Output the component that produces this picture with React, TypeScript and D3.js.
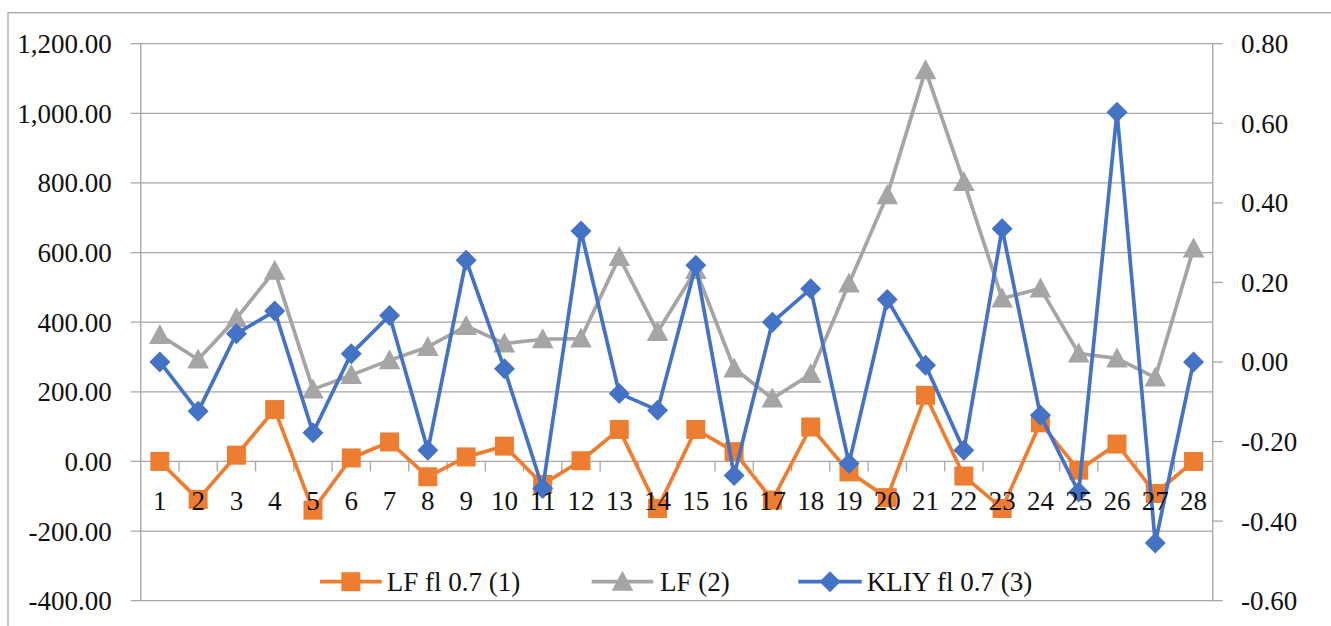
import React from "react";
import * as d3 from "d3";

const categories = Array.from({ length: 28 }, (_, i) => String(i + 1));
const lfFl: number[] = [0, -109, 18, 149, -140, 10, 56, -44, 13, 44, -66, 2, 92, -135, 92, 28, -111, 99, -30, -104, 190, -42, -135, 111, -25, 50, -92, 0];
const lf: number[] = [363, 293, 411, 548, 207, 248, 291, 329, 389, 339, 351, 353, 587, 372, 550, 267, 181, 251, 511, 765, 1124, 803, 468, 497, 310, 296, 241, 612];
const kliy: number[] = [0, -0.124, 0.071, 0.128, -0.178, 0.021, 0.117, -0.222, 0.256, -0.017, -0.318, 0.329, -0.079, -0.121, 0.243, -0.285, 0.1, 0.184, -0.255, 0.157, -0.008, -0.222, 0.335, -0.134, -0.327, 0.628, -0.455, 0];
const leftTicks = [-400, -200, 0, 200, 400, 600, 800, 1000, 1200];
const rightTicks = [-0.6, -0.4, -0.2, 0, 0.2, 0.4, 0.6, 0.8];
const seriesNames = ["LF fl 0.7 (1)", "LF (2)", "KLIY fl 0.7 (3)"];

const W = 1331, H = 626;
const L = 140.7, R = 1212.7, T = 43.7, B = 600.7;
const FONT = "Liberation Serif, serif";
const FS = 27;
const GRID = "#a6a6a6";
const C1 = "#ED7D31", C2 = "#A5A5A5", C3 = "#4472C4";
const LW = 3.7;

function Marker({ kind, x, y, color }: { kind: string; x: number; y: number; color: string }) {
  if (kind === "square") return <rect x={x - 9.5} y={y - 9.5} width={19} height={19} fill={color} />;
  if (kind === "triangle") return <path d={`M${x},${y - 11}L${x + 10.8},${y + 9}L${x - 10.8},${y + 9}Z`} fill={color} />;
  return <path d={`M${x},${y - 10.5}L${x + 10.5},${y}L${x},${y + 10.5}L${x - 10.5},${y}Z`} fill={color} />;
}

export default function App() {
  const x = d3.scaleBand<string>().domain(categories).range([L, R]);
  const yL = d3.scaleLinear().domain([-400, 1200]).range([B, T]);
  const yR = d3.scaleLinear().domain([-0.6, 0.8]).range([B, T]);
  const cx = (c: string) => (x(c) as number) + x.bandwidth() / 2;
  const lineL = d3.line<number>().x((_, i) => cx(categories[i])).y((d) => yL(d));
  const lineR = d3.line<number>().x((_, i) => cx(categories[i])).y((d) => yR(d));
  const y0 = yL(0);

  const series = [
    { data: lfFl, path: lineL(lfFl), color: C1, kind: "square", y: yL },
    { data: lf, path: lineL(lf), color: C2, kind: "triangle", y: yL },
    { data: kliy, path: lineR(kliy), color: C3, kind: "diamond", y: yR },
  ];

  const legendY = 581.7;
  const legendItems = [
    { x1: 320, x2: 381.7, tx: 386.7, color: C1, kind: "square", name: seriesNames[0] },
    { x1: 591.7, x2: 653.3, tx: 660, color: C2, kind: "triangle", name: seriesNames[1] },
    { x1: 798.3, x2: 861.7, tx: 866.7, color: C3, kind: "diamond", name: seriesNames[2] },
  ];

  return (
    <svg width={W} height={H} style={{ position: "absolute", left: 0, top: 0, background: "#fff" }} fontFamily={FONT}>
      <rect x={0} y={0} width={W} height={H} fill="#fff" />
      <rect x={8} y={12.7} width={1400} height={700} fill="none" stroke={GRID} strokeWidth={1.3} />
      {leftTicks.map((t) => (
        <g key={"l" + t}>
          <line x1={L - 10} x2={R} y1={yL(t)} y2={yL(t)} stroke={GRID} strokeWidth={1.3} />
          <text x={111.7} y={yL(t)} dy="0.35em" textAnchor="end" fontSize={FS} fill="#111">
            {d3.format(",.2f")(t).replace("−", "-")}
          </text>
        </g>
      ))}
      <line x1={L} x2={L} y1={T} y2={B} stroke={GRID} strokeWidth={1.3} />
      <line x1={R} x2={R} y1={T} y2={B} stroke={GRID} strokeWidth={1.3} />
      {rightTicks.map((t) => (
        <g key={"r" + t}>
          <line x1={R} x2={R + 10} y1={yR(t)} y2={yR(t)} stroke={GRID} strokeWidth={1.3} />
          <text x={1241} y={yR(t)} dy="0.35em" textAnchor="start" fontSize={FS} fill="#111">
            {d3.format(".2f")(t).replace("−", "-")}
          </text>
        </g>
      ))}
      {categories.map((c, i) =>
        i > 0 ? (
          <line key={"ct" + c} x1={x(c) as number} x2={x(c) as number} y1={y0} y2={y0 + 10} stroke={GRID} strokeWidth={1.3} />
        ) : null
      )}
      {series.map((s, si) => (
        <g key={"s" + si}>
          <path d={s.path as string} fill="none" stroke={s.color} strokeWidth={LW} strokeLinejoin="round" />
          {s.data.map((d, i) => (
            <Marker key={i} kind={s.kind} x={cx(categories[i])} y={s.y(d)} color={s.color} />
          ))}
        </g>
      ))}
      {categories.map((c) => (
        <text key={"cl" + c} x={cx(c)} y={y0 + 39} dy="0.35em" textAnchor="middle" fontSize={FS} fill="#111">
          {c}
        </text>
      ))}
      {legendItems.map((it) => (
        <g key={it.name}>
          <line x1={it.x1} x2={it.x2} y1={legendY} y2={legendY} stroke={it.color} strokeWidth={LW} />
          <Marker kind={it.kind} x={(it.x1 + it.x2) / 2} y={legendY} color={it.color} />
          <text x={it.tx} y={legendY} dy="0.35em" fontSize={FS} fill="#111">
            {it.name}
          </text>
        </g>
      ))}
    </svg>
  );
}
